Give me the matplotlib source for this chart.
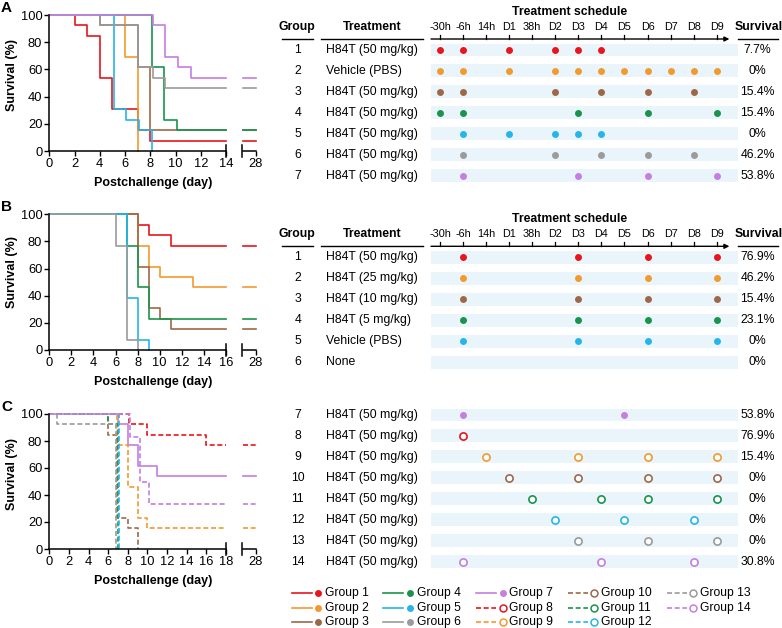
import matplotlib
matplotlib.use('Agg')
import matplotlib.pyplot as plt

plt.rcParams['font.family'] = ['Liberation Sans', 'DejaVu Sans']
plt.rcParams['font.size'] = 8.8

W, H = 782, 628

# ---- colours per group ----
group_colors = {
    1: '#e8151d', 2: '#f39a2e', 3: '#9e6848', 4: '#1a944c', 5: '#26b5ea',
    6: '#9b9b9b', 7: '#c47fe0', 8: '#e8151d', 9: '#f39a2e', 10: '#9e6848',
    11: '#1a944c', 12: '#26b5ea', 13: '#9b9b9b', 14: '#c47fe0',
}

# ---- treatment schedule time points ----
sched_labels = ['-30h', '-6h', '14h', 'D1', '38h', 'D2', 'D3', 'D4',
                'D5', 'D6', 'D7', 'D8', 'D9']

# ---- panel A ----
a_groups = [1, 2, 3, 4, 5, 6, 7]
a_treat = ['H84T (50 mg/kg)', 'Vehicle (PBS)', 'H84T (50 mg/kg)', 'H84T (50 mg/kg)',
           'H84T (50 mg/kg)', 'H84T (50 mg/kg)', 'H84T (50 mg/kg)']
a_surv_txt = ['7.7%', '0%', '15.4%', '15.4%', '0%', '46.2%', '53.8%']
a_sched = [
    ['-30h', '-6h', 'D1', 'D2', 'D3', 'D4'],
    ['-30h', '-6h', 'D1', 'D2', 'D3', 'D4', 'D5', 'D6', 'D7', 'D8', 'D9'],
    ['-30h', '-6h', 'D2', 'D4', 'D6', 'D8'],
    ['-30h', '-6h', 'D3', 'D6', 'D9'],
    ['-6h', 'D1', 'D2', 'D3', 'D4'],
    ['-6h', 'D2', 'D4', 'D6', 'D8'],
    ['-6h', 'D3', 'D6', 'D9'],
]
a_times = [
    [0, 2, 3, 4, 5, 7, 8],
    [0, 6, 7],
    [0, 4, 7, 8],
    [0, 8.1, 9.1, 10.1],
    [0, 5.1, 6.1, 7.1, 8.1],
    [0, 4, 7, 8.2, 9.2],
    [0, 8.2, 9.2, 10.2, 11.2],
]
a_km = [
    [100, 92.3, 84.6, 53.8, 30.8, 15.4, 7.7],
    [100, 69.2, 0],
    [100, 92.3, 61.5, 15.4],
    [100, 61.5, 23.1, 15.4],
    [100, 30.8, 23.1, 15.4, 0],
    [100, 92.3, 61.5, 53.8, 46.2],
    [100, 92.3, 69.2, 61.5, 53.8],
]

# ---- panel B ----
b_groups = [1, 2, 3, 4, 5, 6]
b_treat = ['H84T (50 mg/kg)', 'H84T (25 mg/kg)', 'H84T (10 mg/kg)', 'H84T (5 mg/kg)',
           'Vehicle (PBS)', 'None']
b_surv_txt = ['76.9%', '46.2%', '15.4%', '23.1%', '0%', '0%']
b_sched = [
    ['-6h', 'D3', 'D6', 'D9'],
    ['-6h', 'D3', 'D6', 'D9'],
    ['-6h', 'D3', 'D6', 'D9'],
    ['-6h', 'D3', 'D6', 'D9'],
    ['-6h', 'D3', 'D6', 'D9'],
    [],
]
b_times = [
    [0, 8, 9, 11],
    [0, 8, 9, 10, 13],
    [0, 8, 9, 10, 11],
    [0, 7, 8, 9],
    [0, 7, 8, 9],
    [0, 6, 7, 8],
]
b_km = [
    [100, 92.3, 84.6, 76.9],
    [100, 76.9, 61.5, 53.8, 46.2],
    [100, 61.5, 30.8, 23.1, 15.4],
    [100, 76.9, 46.2, 23.1],
    [100, 38.5, 7.7, 0],
    [100, 76.9, 7.7, 0],
]

# ---- panel C ----
c_groups = [7, 8, 9, 10, 11, 12, 13, 14]
c_treat = ['H84T (50 mg/kg)'] * 8
c_surv_txt = ['53.8%', '76.9%', '15.4%', '0%', '0%', '0%', '0%', '30.8%']
c_sched = [
    ['-6h', 'D5'],
    ['-6h'],
    ['14h', 'D3', 'D6', 'D9'],
    ['D1', 'D3', 'D6', 'D9'],
    ['38h', 'D4', 'D6', 'D9'],
    ['D2', 'D5', 'D8'],
    ['D3', 'D6', 'D9'],
    ['-6h', 'D4', 'D8'],
]
c_times = [
    [0, 7, 8, 9, 11],
    [0, 8.1, 10, 16],
    [0, 6.9, 8, 9, 10],
    [0, 6, 6.9, 8, 9],
    [0, 6, 7],
    [0, 7.05],
    [0, 0.8, 6.8],
    [0, 8.2, 9.2, 10.2],
]
c_km = [
    [100, 92.3, 76.9, 61.5, 53.8],
    [100, 92.3, 84.6, 76.9],
    [100, 76.9, 46.2, 23.1, 15.4],
    [100, 84.6, 23.1, 15.4, 0],
    [100, 92.3, 0],
    [100, 0],
    [100, 92.3, 0],
    [100, 83.3, 50, 33.3],
]

fig = plt.figure(figsize=(W / 100, H / 100), dpi=100)


def px_axes(x0, y0, x1, y1):
    return fig.add_axes([x0 / W, 1 - y1 / H, (x1 - x0) / W, (y1 - y0) / H])


def line_style(g):
    return '-' if g <= 7 else (0, (3, 1.6))


def km_panel(y_top, y_bot, xmax, groups, times, km, letter, ylab_y):
    ax = px_axes(49.3, y_top, 226, y_bot)
    ax2 = px_axes(242.5, y_top, 255.7, y_bot)
    for g, t, s in zip(groups, times, km):
        if s[-1] > 0:
            tx, sx = t + [xmax], s + [s[-1]]
        else:
            tx, sx = t, s
        ax.step(tx, sx, where='post', color=group_colors[g], lw=1.2,
                ls=line_style(g), clip_on=False)
        if s[-1] > 0:
            ax2.plot([26.5, 28], [s[-1], s[-1]], color=group_colors[g], lw=1.2,
                     ls=line_style(g), clip_on=False)
    ax.set_xlim(0, xmax)
    ax.set_ylim(0, 100)
    ax.set_xticks(range(0, xmax + 1, 2))
    ax.set_yticks(range(0, 101, 20))
    ax2.set_xlim(26.5, 28)
    ax2.set_ylim(0, 100)
    ax2.set_xticks([28])
    ax2.set_yticks([])
    for a in (ax, ax2):
        a.spines['top'].set_visible(False)
        a.spines['right'].set_visible(False)
        for sp in a.spines.values():
            sp.set_linewidth(1.1)
        a.tick_params(direction='out', length=3.5, width=1.0, labelsize=9.3, pad=1.5)
        a.patch.set_alpha(0)
    ax2.spines['left'].set_visible(False)
    # axis break bars
    ax.plot([1, 1], [-0.045, 0.045], transform=ax.transAxes, color='black',
            lw=1.1, clip_on=False)
    ax2.plot([0, 0], [-0.045, 0.045], transform=ax2.transAxes, color='black',
             lw=1.1, clip_on=False)
    fig.text(152.7 / W, 1 - (y_bot + 31.7) / H, 'Postchallenge (day)', ha='center',
             va='center', fontweight='bold', fontsize=9)
    fig.text(12.5 / W, 1 - ylab_y / H, 'Survival (%)', rotation=90, ha='center',
             va='center', fontweight='bold', fontsize=9)
    fig.text(1 / W, 1 - (y_top - 7) / H, letter, ha='left', va='center',
             fontweight='bold', fontsize=11)


km_panel(15, 151, 14, a_groups, a_times, a_km, 'A', 75)
km_panel(214.3, 350, 16, b_groups, b_times, b_km, 'B', 272)
km_panel(414, 549, 18, c_groups, c_times, c_km, 'C', 474)

# ---- tables ----
ROW_H = 20.95
X_PX0 = 440.0
X_STEP = 23.06


def table(row1, groups, treat, surv_txt, sched, header=True):
    n = len(groups)
    top = row1 - 48
    bot = row1 + (n - 1) * ROW_H + 12
    ax = px_axes(270, top, 782, bot)
    ax.set_xlim((270 - X_PX0) / X_STEP, (782 - X_PX0) / X_STEP)
    ax.set_ylim((bot - row1) / ROW_H, (top - row1) / ROW_H)
    ax.axis('off')
    rows = list(range(n))
    ax.barh(rows, 13.3, left=-0.39, height=0.62, color='#e9f5fb', lw=0)
    for r, g, tr, sv, sc in zip(rows, groups, treat, surv_txt, sched):
        ax.text(-6.17, r, str(g), ha='center', va='center')
        ax.text(-4.94, r, tr, ha='left', va='center')
        ax.text(13.77, r, sv, ha='center', va='center')
        xs = [sched_labels.index(s) for s in sc]
        if g <= 7:
            ax.plot(xs, [r] * len(xs), 'o', ms=5, color=group_colors[g], mew=0)
        else:
            ax.plot(xs, [r] * len(xs), 'o', ms=5.2, mfc='white',
                    mec=group_colors[g], mew=1.2)
    if header:
        hy = -1.11
        ly = -0.525
        ax.text(5.6, -1.83, 'Treatment schedule', ha='center', va='center',
                fontweight='bold')
        ax.text(-6.21, hy, 'Group', ha='center', va='center', fontweight='bold')
        ax.text(-2.96, hy, 'Treatment', ha='center', va='center', fontweight='bold')
        ax.text(13.83, hy, 'Survival', ha='center', va='center', fontweight='bold')
        ax.plot([-6.87, -5.52], [ly, ly], color='black', lw=1)
        ax.plot([-5.17, -0.75], [ly, ly], color='black', lw=1)
        ax.plot([12.92, 14.66], [ly, ly], color='black', lw=1, clip_on=False)
        ax.annotate('', xy=(12.55, ly), xytext=(-0.39, ly),
                    arrowprops=dict(arrowstyle='-|>', lw=1, color='black',
                                    mutation_scale=7, shrinkA=0, shrinkB=0))
        for i, lab in enumerate(sched_labels):
            ax.plot([i, i], [ly, ly - 0.2], color='black', lw=0.9)
            ax.text(i, hy, lab, ha='center', va='center', fontsize=7.8)


table(50, a_groups, a_treat, a_surv_txt, a_sched)
table(257.3, b_groups, b_treat, b_surv_txt, b_sched)
table(415, c_groups, c_treat, c_surv_txt, c_sched, header=False)

# ---- legend ----
lax = px_axes(270, 580, 782, 628)
lax.set_xlim(270, 782)
lax.set_ylim(628, 580)
lax.axis('off')
col_x = [291.7, 383.3, 476, 567.7, 666.7]
row_y = [593.3, 607.7, 621.7]
for g in range(1, 15):
    cx = col_x[(g - 1) // 3]
    cy = row_y[(g - 1) % 3]
    c = group_colors[g]
    lax.plot([cx, cx + 20], [cy, cy], color=c, lw=1.2, ls=line_style(g))
    if g <= 7:
        lax.plot([cx + 26.6], [cy], 'o', ms=5, color=c, mew=0)
    else:
        lax.plot([cx + 26.6], [cy], 'o', ms=5, mfc='white', mec=c, mew=1.1)
    lax.text(cx + 33.3, cy, 'Group %d' % g, ha='left', va='center', fontsize=8.7)

fig.savefig('out.png', dpi=100)
